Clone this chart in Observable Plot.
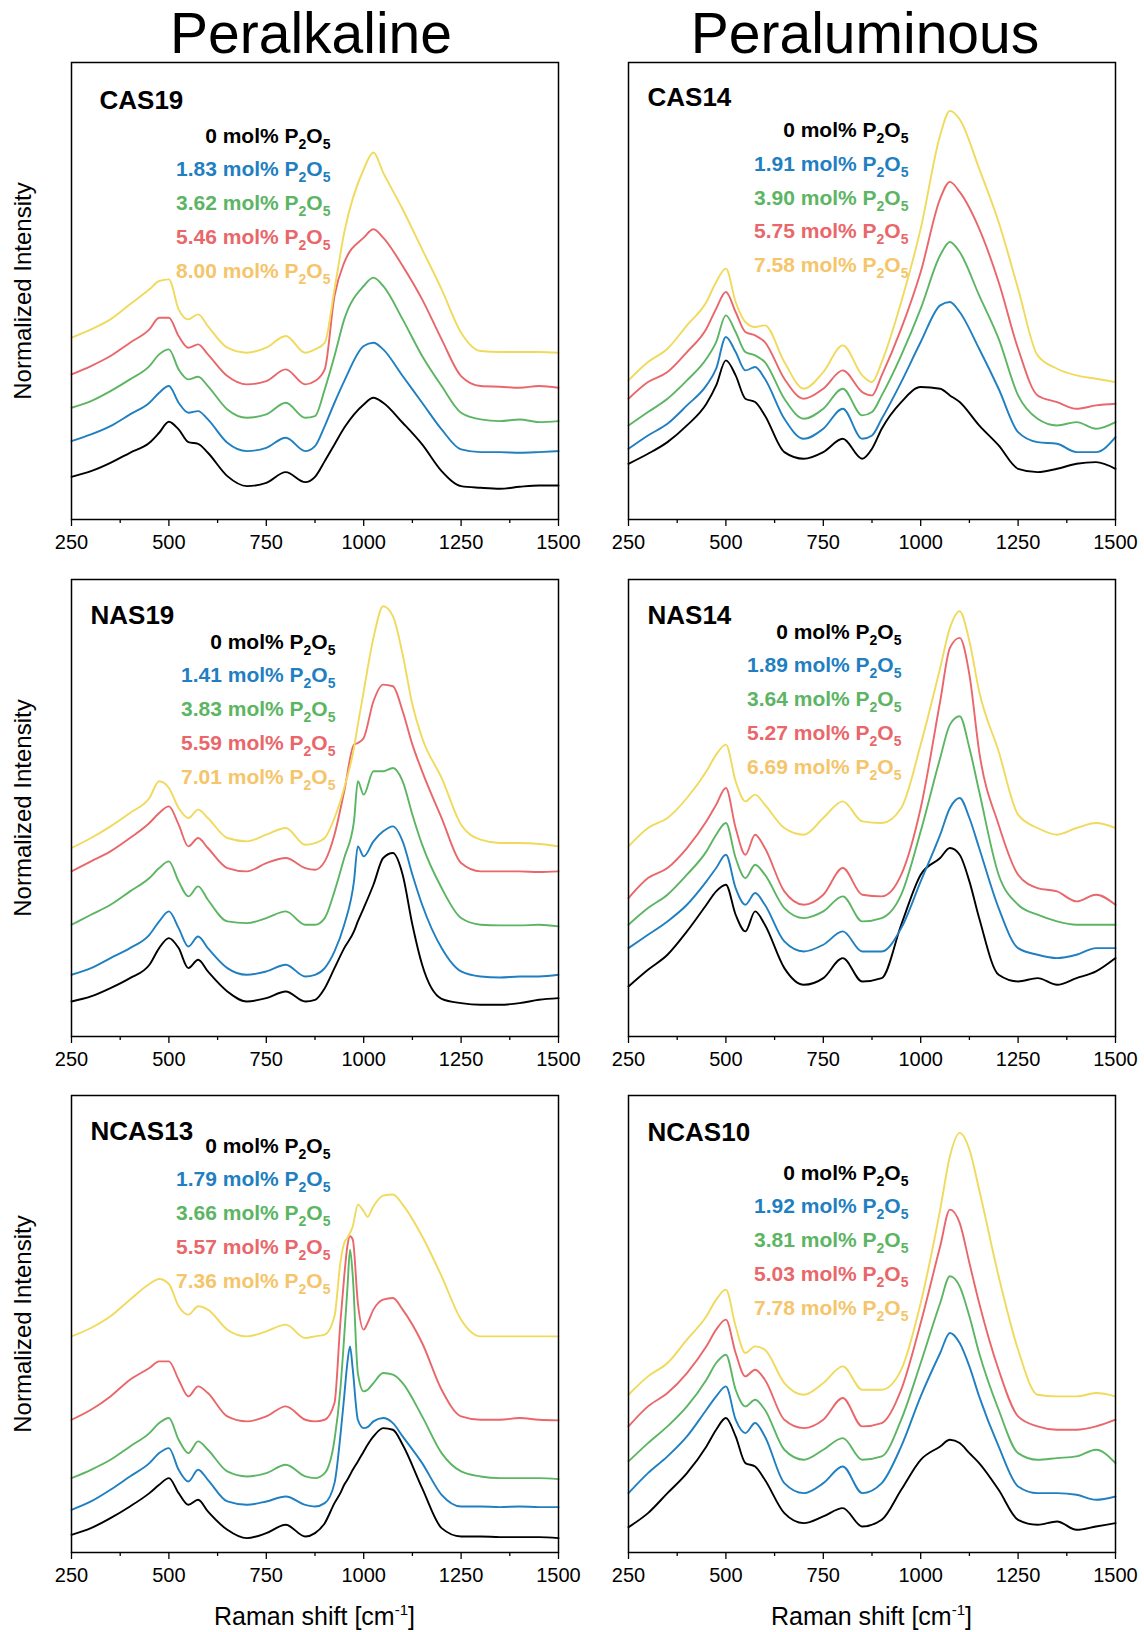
<!DOCTYPE html>
<html><head><meta charset="utf-8">
<script src="https://cdn.jsdelivr.net/npm/d3@7"></script>
<script src="https://cdn.jsdelivr.net/npm/@observablehq/plot@0.6"></script>
<style>
body{margin:0;background:#fff;font-family:"Liberation Sans",Arial,sans-serif;}
#fig{position:relative;width:1144px;height:1632px;overflow:hidden;background:#fff;}
.title{position:absolute;top:0;font-size:57px;line-height:normal;transform:translateX(-50%);white-space:nowrap;color:#000;}
.ylab{position:absolute;font-size:24px;line-height:1;white-space:nowrap;transform:translate(-50%,-50%) rotate(-90deg);color:#000;}
.xlab{position:absolute;font-size:25px;line-height:1;white-space:nowrap;transform:translateX(-50%);color:#000;}
.xlab sup{font-size:15px;vertical-align:10px;line-height:0;}
</style></head><body><div id="fig"></div>
<script>
// ---------- data ----------
const majorTicks = [250, 500, 750, 1000, 1250, 1500];
const minorTicks = [375, 625, 875, 1125, 1375];
const lineColors = ["#000000", "#1f7fc1", "#5cb563", "#e9676a", "#f0da5c"];
const textColors = ["#000000", "#1f7fc1", "#5cb563", "#e9676a", "#f5c56b"];

// CAS19 (Peralkaline)
const cas19X = [250,300,350,400,450,475,500,525,550,575,600,650,700,750,800,850,875,900,925,950,1000,1025,1050,1100,1150,1200,1250,1300,1350,1400,1450,1500];
const cas19_0 = [12.8,14.5,17,20,23,26,29.3,27,23.2,22.7,20,13,10,11,14.2,11.2,12.8,17.5,22.5,27.5,34.5,36.5,35,29,22.5,14.5,10,9.5,9.2,9.8,10.2,10.2];
const cas19_1 = [23.5,25.5,28,31.5,35,38,40,35,32,32.5,30,23,20.5,21.5,24.5,20.5,22,28,35,41.5,52,53,51,43,35,27,21,20.2,20.2,20,20.2,20.5];
const cas19_2 = [33.5,35.5,38.5,42,46,49.5,51,45,42,42.8,40,33,30.5,31.5,35,30.5,31,39,49,60,70,72.5,70,60,49,40,32,30,29.5,30,29.2,29.5];
const cas19_3 = [43.5,46,49,53,57,60.5,60.5,55,51.5,52.5,49.5,43,40.5,41.5,45,40.5,41.5,45,67,77,84.5,87,84.5,76,66,54,43,40,39.8,39.5,40,39.5];
const cas19_4 = [54.5,57,60,64.5,69,71.5,72,63,60,61.5,58,51.5,50,51.5,55,50,51,53,69,86,105,110,104,93,81,69,56,50.5,50.2,50.2,50.2,50];
const cas19Labels = ["0 mol% P2O5", "1.83 mol% P2O5", "3.62 mol% P2O5", "5.46 mol% P2O5", "8.00 mol% P2O5"];

// CAS14 (Peraluminous)
const cas14X = [250,300,350,400,450,475,500,525,550,575,600,650,700,750,800,850,875,900,950,1000,1050,1075,1100,1150,1200,1250,1300,1350,1400,1450,1500];
const cas14_0 = [16.7,19.7,23.2,28.2,34.7,40.2,47.7,43.2,36.2,35.2,31.2,20.2,18.2,20.2,24.2,18.2,21.2,27.2,35.2,39.7,39.2,37.2,35.2,28.2,22.2,15.2,14.2,15.2,16.7,17.2,15.2];
const cas14_1 = [21.2,25.2,28.7,34.2,40.2,45.2,54.7,50.2,44.7,45.7,42.2,30.2,24.2,27.2,33.2,24.2,25.2,30.2,41.2,53.2,64.2,65.2,62.2,51.2,39.2,26.2,23.2,22.7,20.2,20.2,24.7];
const cas14_2 = [28.2,32.2,36.2,41.7,48.2,53.2,61.2,56.2,50.2,49.2,47.2,36.2,30.2,33.2,39.2,31.2,32.2,37.2,49.2,63.2,79.2,83.2,80.2,67.2,54.2,37.2,30.2,28.2,29.2,27.2,29.2];
const cas14_3 = [36.2,41.2,44.2,50.2,57.2,63.2,68.2,62.2,56.2,55.2,53.2,42.2,36.2,39.2,44.7,38.2,37.2,43.2,57.2,74.2,96.2,101.2,98.2,87.2,71.2,51.2,37.2,35.2,33.2,34.2,34.7];
const cas14_4 = [41.7,47.2,51.2,58.2,65.2,71.2,75.2,65.2,59.2,57.7,58.2,47.2,39.2,44.2,52.2,43.2,41.2,47.2,65.2,87.2,115.2,122.5,120,105.2,89.2,69.2,49.2,45.2,43.2,42.2,41.2];
const cas14Labels = ["0 mol% P2O5", "1.91 mol% P2O5", "3.90 mol% P2O5", "5.75 mol% P2O5", "7.58 mol% P2O5"];

// NAS19 (Peralkaline)
const nas19X = [250,300,350,400,450,475,500,525,550,575,600,650,700,750,800,850,875,900,925,950,975,985,1000,1025,1050,1075,1100,1125,1150,1200,1250,1300,1350,1400,1450,1500];
const nas19_0 = [10.5,12,14.5,17.5,21.5,26.5,29.5,26.5,20.5,23,19.5,13.5,10.5,11.5,13.5,10.5,11,14.5,20.5,26.5,31.5,34.5,38.5,45.5,53.5,55,48.5,33.5,21.5,11.3,10,9.5,9.5,10,11,11.5];
const nas19_1 = [18.5,20.5,23.5,26.5,30.5,34.5,37.5,32.5,27,30,26.5,20.5,18.5,19.5,21.5,18,18.5,20.5,25.5,33.5,46.5,57,54,58.5,61.5,63,58.5,48.5,39.5,26.5,19.5,18,17.7,18,18,18.5];
const nas19_2 = [33.5,36.5,39.5,43.5,47.5,50.5,52.5,46.5,42,45,41,34.5,34,35.5,37.5,33.5,33.5,35.5,43.5,53.5,64.5,76.5,72.5,79.5,79.5,80.5,76.5,66.5,57.5,44.5,35.5,33.5,33.3,33.3,33.5,33];
const nas19_3 = [49.5,52.5,55.5,59.5,64,67,69,63.5,57,59.5,56.5,50.5,49.5,52,53.5,50.5,50,52.5,60.5,73.5,87.5,88,89.5,100.5,105.5,105,97.5,87.5,79.5,65.5,52,49.5,49.5,49.5,49.3,49.5];
const nas19_4 = [56.5,59.5,63,67,71.5,76.5,74.5,68.5,65.5,68,65.5,59.5,58.5,60.5,62.5,57.5,58,59.5,65.5,74.5,86.5,93.5,103.5,119.5,129,126,114.5,99.5,89.5,77.5,63.5,59,58,58,57.7,57];
const nas19Labels = ["0 mol% P2O5", "1.41 mol% P2O5", "3.83 mol% P2O5", "5.59 mol% P2O5", "7.01 mol% P2O5"];

// NAS14 (Peraluminous)
const nas14X = [250,300,350,400,450,475,500,525,550,575,600,650,700,750,800,850,900,950,1000,1050,1075,1100,1125,1150,1200,1250,1300,1350,1400,1450,1500];
const nas14_0 = [15,20,24.5,31.5,39.5,43.5,45.5,36.5,31.5,37.5,33.5,20.5,15.5,17.5,23.5,16.5,17.5,33.5,48.5,53.5,56.5,54.5,46.5,35.5,18.5,16.5,17.5,15.5,17.5,19.5,23.5];
const nas14_1 = [26.5,30.5,34.5,39.5,46.5,50.5,54.5,44.5,39.5,43,39.5,28.5,25.5,27.5,31.5,25.5,25.5,32.5,46.5,60.5,68.5,71.5,65.5,56.5,38.5,26.5,24.5,23.5,24.5,26.5,26.5];
const nas14_2 = [33.5,38.5,42.5,48.5,55.5,60.5,64,53.5,47.5,51.5,48.5,38.5,35.5,37.5,42,34.5,35.5,42.5,61.5,83.5,93.5,96,86.5,73.5,48.5,39.5,36.5,34.5,33.5,33.5,33.5];
const nas14_3 = [41.5,47.5,50.5,56.5,64.5,69.5,74.5,62.5,54.5,60.5,56.5,43.5,39.5,42.5,50.5,42.5,42,48.5,68.5,100.5,116.5,119.5,108.5,85.5,63.5,48.5,44.5,43.5,40.5,42.5,39.5];
const nas14_4 = [57,62.5,65.5,71.5,79.5,84.5,87.5,76.5,70.5,72.5,69.5,62.5,60.5,65.5,70.5,64.5,64,68.5,87.5,110.5,122.5,127.5,118.5,103.5,85.5,66.5,62.5,60.5,62.5,64,62.5];
const nas14Labels = ["0 mol% P2O5", "1.89 mol% P2O5", "3.64 mol% P2O5", "5.27 mol% P2O5", "6.69 mol% P2O5"];

// NCAS13 (Peralkaline)
const ncas13X = [250,300,350,400,450,475,500,525,550,575,600,650,700,750,800,850,875,900,925,940,950,958,965,972,985,1000,1010,1025,1050,1075,1100,1150,1200,1250,1300,1350,1400,1450,1500];
const ncas13_0 = [5.3,7.3,10.3,13.8,17.8,20.3,22.3,17.8,14.3,15.8,12.3,6.8,4.3,5.8,8.3,4.8,5.8,8.8,14.8,17.8,20.3,21.8,23.3,24.8,27.3,30.3,32.3,34.8,37.3,36.8,32.3,19.3,7.3,4.8,4.8,4.6,4.6,4.6,4.3];
const ncas13_1 = [12.8,15.3,18.8,22.8,26.8,29.8,31.3,24.8,21.3,24.8,21.8,15.3,14.3,15.3,16.8,14.3,13.8,14.8,20.8,34.8,46.8,56.8,61.8,54.8,39.8,37.3,37.6,39.3,40.3,38.8,34.8,26.8,17.3,13.8,13.8,13.6,13.8,13.6,13.6];
const ncas13_2 = [22.3,24.8,27.8,31.8,35.8,38.8,40.3,33.8,29.8,33.3,30.8,24.3,22.8,23.8,26.3,22.8,22.3,23.8,33.8,48.8,64.8,78.8,90.8,82.8,53.8,48.3,48.8,50.8,53.8,53.3,50.8,40.8,29.8,24.3,22.8,22.3,22.3,22.3,22];
const ncas13_3 = [39.8,42.8,46.8,51.8,55.3,57.3,57.3,51.8,46.8,49.8,47.8,40.8,39.3,40.8,43.8,39.8,39.3,39.8,44.8,68.8,82.8,91.8,94.8,93.8,74.8,66.8,68.8,72.8,75.8,76.3,72.8,62.8,48.8,40.8,39.8,39.8,40.3,39.8,39.6];
const ncas13_4 = [64.8,67.3,70.8,75.8,80.5,82,80.5,73.8,71.3,73.8,72.8,66.8,64.8,66.3,68.3,64.3,64.8,65.3,70.8,86.8,92.8,94.3,95.8,97.8,104.3,102.3,100.6,103.8,107,107.3,104.3,94.8,82.8,69.8,64.8,64.8,64.8,64.8,64.8];
const ncas13Labels = ["0 mol% P2O5", "1.79 mol% P2O5", "3.66 mol% P2O5", "5.57 mol% P2O5", "7.36 mol% P2O5"];

// NCAS10 (Peraluminous)
const ncas10X = [250,300,350,400,450,475,500,525,550,575,600,650,700,750,800,850,900,950,1000,1050,1075,1100,1125,1150,1200,1250,1300,1350,1400,1450,1500];
const ncas10_0 = [7.6,11.8,17.8,23.8,31.8,36.8,40.3,34.8,26.8,25.8,21.8,11.8,8.8,10.8,13.3,7.8,9.8,18.8,27.8,31.8,33.8,32.8,29.8,26.8,18.8,9.8,8.3,9.3,6.8,7.8,8.8];
const ncas10_1 = [17.8,23.8,28.8,34.8,42.8,46.8,49.8,39.8,35.8,38.8,34.8,20.8,17.8,20.8,25.8,17.8,20.8,31.8,46.8,59.8,65.8,62.8,55.8,46.8,31.8,19.8,17.8,17.8,17.3,15.8,16.8];
const ncas10_2 = [27.3,32.8,37.8,43.8,51.8,56.8,59.3,48.8,43.8,45.8,42.8,30.8,27.8,30.8,34.3,27.8,28.8,39.8,56.8,74.8,82.8,79.8,70.8,59.8,42.8,29.8,27.8,28.3,28.8,30.8,26.8];
const ncas10_3 = [37.8,43.8,47.8,53.8,61.8,66.8,69.8,59.8,52.8,54.8,51.8,39.8,37.3,39.8,46.3,37.8,38.8,48.8,68.8,91.8,102.8,98.8,86.8,74.8,54.8,40.8,37.8,36.8,36.8,37.8,39.8];
const ncas10_4 = [47.3,52.8,56.8,63.8,70.8,75.8,78.8,67.8,59.8,61.8,60.8,50.8,47.3,50.8,55.8,48.8,48.8,54.8,74.8,102.8,118.8,125.8,120.8,108.8,82.8,60.8,47.3,46.8,46.8,47.8,46.8];
const ncas10Labels = ["0 mol% P2O5", "1.92 mol% P2O5", "3.81 mol% P2O5", "5.03 mol% P2O5", "7.78 mol% P2O5"];

// ---------- layout ----------
const fig = document.getElementById("fig");
const FONT = "'Liberation Sans', Arial, Helvetica, sans-serif";
const W = 487, H = 457, ML = 30, MR = 30, MT = 5, MB = 40;
const SVGNS = "http://www.w3.org/2000/svg";

function addSubscripts(svg) {
  svg.querySelectorAll("text").forEach(t => {
    const s = t.textContent;
    if (!s.endsWith("P2O5")) return;
    const head = s.slice(0, -4);
    t.textContent = "";
    const parts = [[head + "P", 0, null], ["2", 6, 14], ["O", -6, null], ["5", 6, 14]];
    for (const [txt, dy, fs] of parts) {
      const ts = document.createElementNS(SVGNS, "tspan");
      ts.textContent = txt;
      if (dy) ts.setAttribute("dy", dy);
      if (fs) ts.setAttribute("font-size", fs);
      t.appendChild(ts);
    }
  });
}

function makePanel(p) {
  const marks = [];
  p.series.forEach((ys, i) => {
    marks.push(Plot.line(ys, {x: p.xs, y: ys, stroke: lineColors[i], strokeWidth: 1.9, curve: "monotone-x"}));
  });
  marks.push(Plot.frame({stroke: "#000", strokeWidth: 1.5}));
  marks.push(Plot.axisX(majorTicks, {tickSize: 7, tickPadding: 8, fontSize: 20, strokeWidth: 1.3, label: null, fill: "#000",
    tickFormat: d => String(d)}));
  marks.push(Plot.axisX(minorTicks, {tickSize: 4, tickFormat: () => "", strokeWidth: 1.3, label: null}));
  marks.push(Plot.text([p.name], {text: d => d, frameAnchor: "top-left", dx: p.nameDx, dy: p.nameBase, lineAnchor: "bottom",
    textAnchor: "start", fontSize: 26, fontWeight: "bold", fill: "#000"}));
  p.labels.forEach((t, i) => {
    marks.push(Plot.text([t], {text: d => d, frameAnchor: "top-left", dx: p.legRight, dy: p.legTop + i * 33.8, lineAnchor: "bottom",
      textAnchor: "end", fontSize: 21, fontWeight: "bold", fill: textColors[i]}));
  });
  const svg = Plot.plot({
    width: W + ML + MR, height: H + MT + MB,
    marginLeft: ML, marginRight: MR, marginTop: MT, marginBottom: MB,
    x: {domain: [250, 1500]},
    y: {domain: [0, 137], axis: null},
    style: {fontFamily: FONT, background: "transparent", color: "#000", overflow: "visible"},
    marks
  });
  addSubscripts(svg);
  svg.style.position = "absolute";
  svg.style.left = (p.left - ML) + "px";
  svg.style.top = (p.top - MT) + "px";
  fig.appendChild(svg);
}

const colL = 71, colR = 628;
const rows = [62, 579, 1095];

makePanel({name: "CAS19", xs: cas19X, series: [cas19_0, cas19_1, cas19_2, cas19_3, cas19_4], labels: cas19Labels,
  left: colL, top: rows[0], nameDx: 28, nameBase: 46, legRight: 259, legTop: 80});
makePanel({name: "CAS14", xs: cas14X, series: [cas14_0, cas14_1, cas14_2, cas14_3, cas14_4], labels: cas14Labels,
  left: colR, top: rows[0], nameDx: 19, nameBase: 43.5, legRight: 280, legTop: 74.5});
makePanel({name: "NAS19", xs: nas19X, series: [nas19_0, nas19_1, nas19_2, nas19_3, nas19_4], labels: nas19Labels,
  left: colL, top: rows[1], nameDx: 19, nameBase: 44, legRight: 264, legTop: 69});
makePanel({name: "NAS14", xs: nas14X, series: [nas14_0, nas14_1, nas14_2, nas14_3, nas14_4], labels: nas14Labels,
  left: colR, top: rows[1], nameDx: 19, nameBase: 44, legRight: 273, legTop: 59});
makePanel({name: "NCAS13", xs: ncas13X, series: [ncas13_0, ncas13_1, ncas13_2, ncas13_3, ncas13_4], labels: ncas13Labels,
  left: colL, top: rows[2], nameDx: 19, nameBase: 44, legRight: 259, legTop: 57});
makePanel({name: "NCAS10", xs: ncas10X, series: [ncas10_0, ncas10_1, ncas10_2, ncas10_3, ncas10_4], labels: ncas10Labels,
  left: colR, top: rows[2], nameDx: 19, nameBase: 45, legRight: 280, legTop: 84});

function addDiv(cls, html, x, y) {
  const d = document.createElement("div");
  d.className = cls; d.innerHTML = html;
  d.style.left = x + "px"; d.style.top = y + "px";
  fig.appendChild(d);
}
addDiv("title", "Peralkaline", 311, 0);
addDiv("title", "Peraluminous", 865, 0);
rows.forEach(r => addDiv("ylab", "Normalized Intensity", 23, r + H / 2));
addDiv("xlab", "Raman shift [cm<sup>-1</sup>]", 314.5, 1604);
addDiv("xlab", "Raman shift [cm<sup>-1</sup>]", 871.5, 1604);
</script></body></html>
